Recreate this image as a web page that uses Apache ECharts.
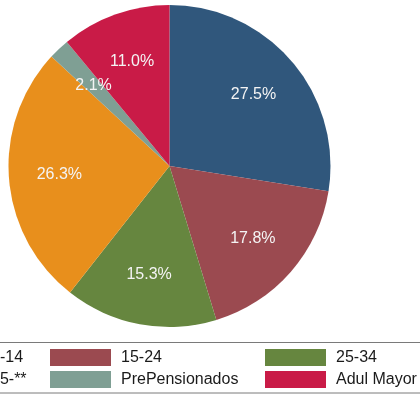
<!DOCTYPE html>
<html>
<head>
<meta charset="utf-8">
<script src="https://cdn.jsdelivr.net/npm/echarts@6/dist/echarts.min.js"></script>
<style>
  html, body { margin: 0; padding: 0; background: #ffffff; }
  #chart { width: 420px; height: 395px; }
</style>
</head>
<body>
<div id="chart"></div>
<script>
// Age-group shares, clockwise from 12 o'clock
var categories = ['0-14', '15-24', '25-34', '35-**', 'PrePensionados', 'Adul Mayor'];
var shares = [27.5, 17.8, 15.3, 26.3, 2.1, 11.0];
var colors = ['#30577c', '#9b4a50', '#66863f', '#e88f1c', '#7f9f94', '#c91b47'];

// Legend laid out in three columns of two entries
var legendColumns = [
  ['0-14', '35-**'],
  ['15-24', 'PrePensionados'],
  ['25-34', 'Adul Mayor']
];
var legendLefts = [-80, 50, 265];

var font = '"Liberation Sans", Arial, Helvetica, sans-serif';

var sliceData = categories.map(function (name, i) {
  return { name: name, value: shares[i], itemStyle: { color: colors[i] } };
});
var labelData = categories.map(function (name, i) {
  return { name: name, value: shares[i] };
});

var chart = echarts.init(document.getElementById('chart'), null, { renderer: 'canvas' });

var legends = legendColumns.map(function (col, c) {
  return {
    orient: 'vertical',
    left: legendLefts[c],
    top: 349,
    padding: 0,
    itemWidth: 61,
    itemHeight: 17,
    itemGap: 5,
    icon: 'rect',
    selectedMode: false,
    data: col,
    textStyle: {
      fontFamily: font,
      fontSize: 16,
      color: '#1a1a1a',
      padding: [0, 0, 0, 5]
    }
  };
});

chart.setOption({
  backgroundColor: '#ffffff',
  animation: false,
  legend: legends,
  graphic: [{
    type: 'rect',
    shape: { x: -10, y: 342.5, width: 440, height: 50.5 },
    style: { fill: 'none', stroke: '#7a7a7a', lineWidth: 1 },
    silent: true,
    z: -1
  }],
  series: [
    {
      type: 'pie',
      center: [169.5, 166],
      radius: [0, 161],
      startAngle: 90,
      clockwise: true,
      silent: true,
      label: { show: false },
      labelLine: { show: false },
      itemStyle: { borderWidth: 0 },
      data: sliceData
    },
    {
      // transparent ring that carries the value labels at two-thirds radius
      type: 'pie',
      center: [169.5, 166],
      radius: [54, 161],
      startAngle: 90,
      clockwise: true,
      silent: true,
      itemStyle: { color: 'rgba(0,0,0,0)', borderWidth: 0 },
      label: {
        show: true,
        position: 'inside',
        fontFamily: font,
        fontSize: 16,
        color: '#f4f4f4',
        formatter: function (p) { return p.value.toFixed(1) + '%'; }
      },
      labelLine: { show: false },
      data: labelData
    }
  ]
});
</script>
</body>
</html>
